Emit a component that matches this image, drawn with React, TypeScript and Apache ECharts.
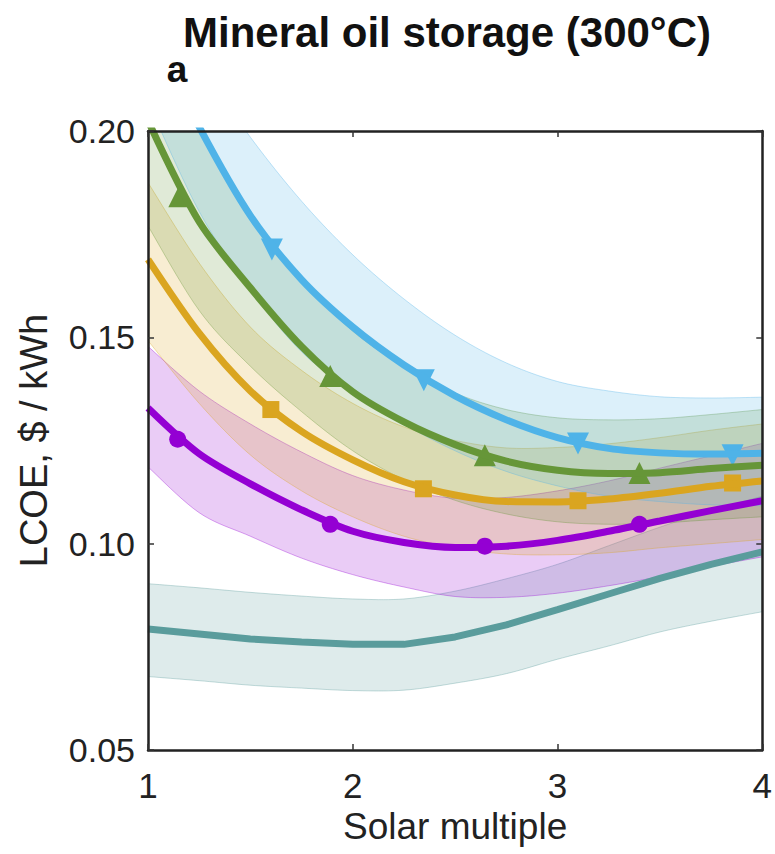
import { useEffect, useRef } from "react";
import * as echarts from "echarts";

const xs = [1, 1.25, 1.5, 1.75, 2, 2.25, 2.5, 2.75, 3, 3.25, 3.5, 3.75, 4];

const tealLine = [0.0793, 0.0781, 0.0769, 0.0762, 0.0756, 0.0756, 0.0774, 0.0803, 0.084, 0.0878, 0.0916, 0.095, 0.098];
const tealUpper = [0.0903, 0.0893, 0.0882, 0.0873, 0.0866, 0.0866, 0.0885, 0.0915, 0.095, 0.0995, 0.104, 0.108, 0.1115];
const tealLower = [0.0678, 0.0668, 0.0657, 0.065, 0.0644, 0.0645, 0.0662, 0.0685, 0.072, 0.0752, 0.0786, 0.0812, 0.0835];

const purpleLine = [0.1329, 0.1218, 0.1145, 0.1082, 0.103, 0.1003, 0.0991, 0.0994, 0.1008, 0.103, 0.1055, 0.108, 0.1104];
const purpleUpper = [0.1478, 0.137, 0.129, 0.1222, 0.1165, 0.113, 0.111, 0.1112, 0.1128, 0.1152, 0.1183, 0.1213, 0.1243];
const purpleLower = [0.1186, 0.1075, 0.1018, 0.0965, 0.0925, 0.0895, 0.0872, 0.087, 0.088, 0.0898, 0.092, 0.0945, 0.0968];
const purpleMarkers = [[1.145, 0.1253], [1.89, 0.1047], [2.645, 0.0994], [3.4, 0.1047]];

const yellowLine = [0.1689, 0.151, 0.137, 0.1272, 0.1203, 0.115, 0.1118, 0.1102, 0.1101, 0.1108, 0.1122, 0.1139, 0.1152];
const yellowUpper = [0.1875, 0.168, 0.1525, 0.142, 0.134, 0.1283, 0.125, 0.1232, 0.1233, 0.1242, 0.1257, 0.1275, 0.129];
const yellowLower = [0.1492, 0.134, 0.1215, 0.1128, 0.1065, 0.1018, 0.099, 0.0975, 0.0973, 0.0978, 0.099, 0.1, 0.101];
const yellowMarkers = [[1.6, 0.1325], [2.345, 0.1133], [3.1, 0.1104], [3.855, 0.1147]];

const greenLine = [0.2025, 0.178, 0.162, 0.1478, 0.1368, 0.1295, 0.124, 0.12, 0.1178, 0.117, 0.1172, 0.1182, 0.119];
const greenUpper = [0.225, 0.2, 0.18, 0.164, 0.1515, 0.143, 0.1365, 0.1325, 0.1305, 0.13, 0.1303, 0.1313, 0.1325];
const greenLower = [0.177, 0.1565, 0.143, 0.132, 0.1225, 0.1155, 0.1105, 0.1072, 0.1053, 0.1047, 0.105, 0.1058, 0.1065];
const greenMarkers = [[1.153, 0.1842], [1.89, 0.1406], [2.645, 0.1214], [3.4, 0.1171]];

const blueLine = [0.226, 0.201, 0.1795, 0.164, 0.1525, 0.1433, 0.1358, 0.13, 0.1257, 0.1231, 0.122, 0.1217, 0.1219];
const blueUpper = [0.235, 0.2165, 0.1985, 0.183, 0.17, 0.1593, 0.1505, 0.1438, 0.1393, 0.137, 0.1356, 0.1353, 0.1355];
const blueLower = [0.207, 0.1805, 0.1615, 0.1465, 0.137, 0.129, 0.1225, 0.1175, 0.114, 0.1115, 0.1102, 0.1094, 0.1092];
const blueMarkers = [[1.605, 0.1713], [2.347, 0.1396], [3.1, 0.1243], [3.855, 0.1214]];

const xTickLabels = ["1", "2", "3", "4"];
const yTickLabels = ["0.05", "0.10", "0.15", "0.20"];

const TEAL = "#5A9C9C";
const PURPLE = "#9400D3";
const YELLOW = "#DAA520";
const GREEN = "#669638";
const BLUE = "#4FB3E8";

const FONT = '"Liberation Sans", Arial, Helvetica, sans-serif';

function rgba(hex: string, a: number) {
  const n = parseInt(hex.slice(1), 16);
  return `rgba(${(n >> 16) & 255},${(n >> 8) & 255},${n & 255},${a})`;
}

function pairs(arr: number[]) {
  return xs.map((x, i) => [x, arr[i]]);
}

// Catmull-Rom smoothing of pixel points (same idea as a smoothed line)
function smoothPts(pts: number[][], steps = 10) {
  const out: number[][] = [];
  const n = pts.length;
  for (let i = 0; i < n - 1; i++) {
    const p0 = pts[Math.max(0, i - 1)];
    const p1 = pts[i];
    const p2 = pts[i + 1];
    const p3 = pts[Math.min(n - 1, i + 2)];
    for (let s = 0; s < steps; s++) {
      const t = s / steps;
      const t2 = t * t;
      const t3 = t2 * t;
      const f = (a: number, b: number, c: number, d: number) =>
        0.5 * (2 * b + (-a + c) * t + (2 * a - 5 * b + 4 * c - d) * t2 + (-a + 3 * b - 3 * c + d) * t3);
      out.push([f(p0[0], p1[0], p2[0], p3[0]), f(p0[1], p1[1], p2[1], p3[1])]);
    }
  }
  out.push(pts[n - 1]);
  return out;
}

function bandSeries(lower: number[], upper: number[], color: string) {
  return {
    type: "custom",
    clip: true,
    silent: true,
    data: [[xs[0], lower[0]]],
    encode: { x: 0, y: 1 },
    renderItem: (_params: any, api: any) => {
      const up = smoothPts(xs.map((x, i) => api.coord([x, upper[i]])));
      const lo = smoothPts(xs.map((x, i) => api.coord([x, lower[i]]))).reverse();
      return {
        type: "polygon",
        shape: { points: up.concat(lo) },
        style: { fill: rgba(color, 0.2), stroke: rgba(color, 0.35), lineWidth: 1 },
      };
    },
  };
}

function lineSeries(arr: number[], color: string, smooth: number | boolean) {
  return {
    type: "line",
    data: pairs(arr),
    symbol: "none",
    smooth,
    silent: true,
    lineStyle: { color, width: 7 },
  };
}

function markerSeries(pts: number[][], color: string, symbol: string, size: number, rotate = 0) {
  return {
    type: "scatter",
    data: pts,
    symbol,
    symbolSize: size,
    symbolRotate: rotate,
    silent: true,
    itemStyle: { color, opacity: 1 },
  };
}

export default function App() {
  const ref = useRef<HTMLDivElement>(null);
  useEffect(() => {
    if (!ref.current) return;
    const chart = echarts.init(ref.current, undefined, { renderer: "svg" });
    const axisLine = { show: true, lineStyle: { color: "#222", width: 2.5 } };
    const axisTick = { show: true, inside: true, length: 6, lineStyle: { color: "#333", width: 1.5 } };
    chart.setOption({
      animation: false,
      backgroundColor: "#fff",
      grid: { left: 148, right: 10, top: 131, bottom: 104, containLabel: false },
      graphic: [
        {
          type: "text",
          x: 447,
          y: 32,
          style: {
            text: "Mineral oil storage (300°C)",
            font: `bold 42px ${FONT}`,
            fill: "#111",
            align: "center",
            verticalAlign: "middle",
          },
        },
        {
          type: "text",
          x: 177,
          y: 69,
          style: {
            text: "a",
            font: `bold 37px ${FONT}`,
            fill: "#111",
            align: "center",
            verticalAlign: "middle",
          },
        },
      ],
      xAxis: [
        {
          type: "value",
          min: 1,
          max: 4,
          interval: 1,
          z: 10,
          axisLine,
          axisTick,
          splitLine: { show: false },
          axisLabel: {
            margin: 18,
            fontSize: 35,
            fontFamily: FONT,
            color: "#222",
            formatter: (v: number) => xTickLabels[Math.round(v) - 1] ?? "",
          },
          name: "Solar multiple",
          nameLocation: "middle",
          nameGap: 58,
          nameTextStyle: { fontSize: 37, fontFamily: FONT, color: "#222" },
        },
        {
          type: "value",
          position: "top",
          min: 1,
          max: 4,
          interval: 1,
          z: 10,
          axisLine,
          axisTick,
          splitLine: { show: false },
          axisLabel: { show: false },
        },
      ],
      yAxis: [
        {
          type: "value",
          min: 0.05,
          max: 0.2,
          interval: 0.05,
          z: 10,
          axisLine,
          axisTick,
          splitLine: { show: false },
          axisLabel: {
            margin: 13,
            fontSize: 34,
            fontFamily: FONT,
            color: "#222",
            formatter: (v: number) => yTickLabels[Math.round(v / 0.05) - 1] ?? "",
          },
          name: "LCOE, $ / kWh",
          nameLocation: "middle",
          nameRotate: 90,
          nameGap: 95,
          nameTextStyle: { fontSize: 38, fontFamily: FONT, color: "#222" },
        },
        {
          type: "value",
          position: "right",
          min: 0.05,
          max: 0.2,
          interval: 0.05,
          z: 10,
          axisLine,
          axisTick,
          splitLine: { show: false },
          axisLabel: { show: false },
        },
      ],
      series: [
        lineSeries(tealLine, TEAL, false),
        bandSeries(tealLower, tealUpper, TEAL),
        lineSeries(purpleLine, PURPLE, 0.3),
        markerSeries(purpleMarkers, PURPLE, "circle", 17),
        bandSeries(purpleLower, purpleUpper, PURPLE),
        lineSeries(yellowLine, YELLOW, 0.3),
        markerSeries(yellowMarkers, YELLOW, "rect", 17),
        bandSeries(yellowLower, yellowUpper, YELLOW),
        lineSeries(greenLine, GREEN, 0.3),
        markerSeries(greenMarkers, GREEN, "triangle", 22),
        bandSeries(greenLower, greenUpper, GREEN),
        lineSeries(blueLine, BLUE, 0.3),
        markerSeries(blueMarkers, BLUE, "triangle", 22, 180),
        bandSeries(blueLower, blueUpper, BLUE),
      ],
    });
    return () => chart.dispose();
  }, []);
  return (
    <div
      ref={ref}
      style={{ position: "fixed", left: 0, top: 0, width: 775, height: 854, background: "#fff" }}
    />
  );
}
